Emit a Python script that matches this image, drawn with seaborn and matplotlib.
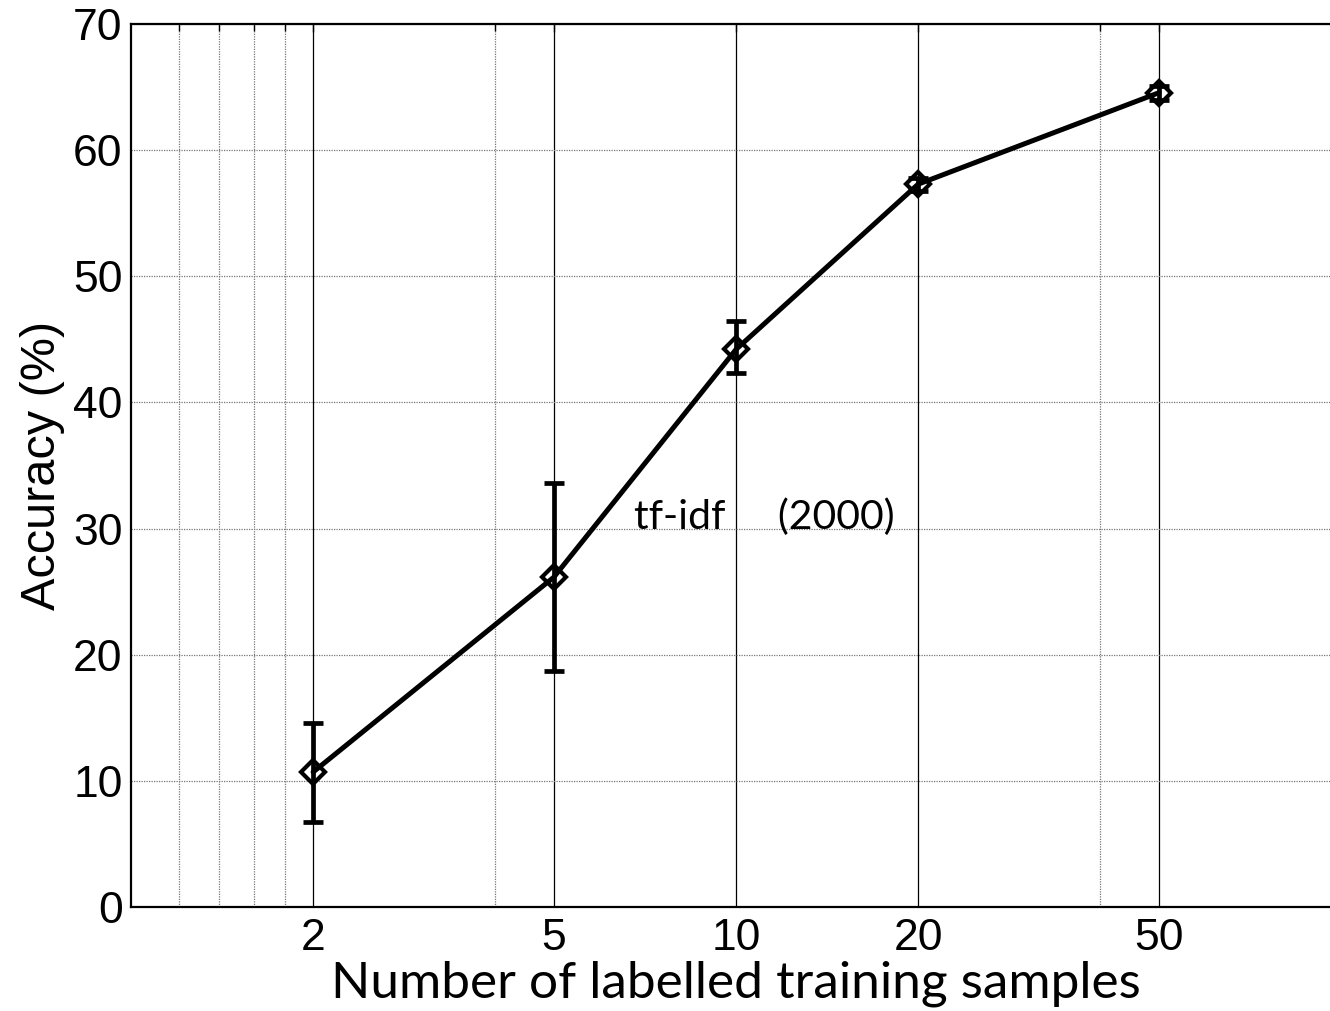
import matplotlib
matplotlib.use("Agg")
import matplotlib.pyplot as plt
from matplotlib.ticker import NullFormatter, FixedLocator
import seaborn as sns
import pandas as pd

# Accuracy vs. number of labelled training samples (tf-idf, 2000 features)
samples = [2, 5, 10, 20, 50]
accuracy = [10.7, 26.15, 44.2, 57.3, 64.55]
err_low = [6.75, 18.7, 42.3, 56.8, 64.0]
err_high = [14.55, 33.65, 46.45, 57.8, 65.1]

x_major = [2, 5, 10, 20, 50]
x_major_labels = ["2", "5", "10", "20", "50"]
x_minor = [1.2, 1.4, 1.6, 1.8, 4, 40]
y_ticks = [0, 10, 20, 30, 40, 50, 60, 70]

df = pd.DataFrame({"samples": samples, "accuracy": accuracy})

sns.set_style("white")
plt.rcParams["font.family"] = ["Liberation Sans", "DejaVu Sans"]
plt.rcParams["text.color"] = "black"
plt.rcParams["axes.labelcolor"] = "black"
plt.rcParams["xtick.color"] = "black"
plt.rcParams["ytick.color"] = "black"

fig = plt.figure(figsize=(13.3, 10.11), dpi=100)
ax = fig.add_axes([131 / 1330, 104 / 1011, 1210 / 1330, 883 / 1011])
ax.set_xscale("log")

# error bars
yerr = [[a - lo for a, lo in zip(accuracy, err_low)],
        [hi - a for a, hi in zip(accuracy, err_high)]]
ax.errorbar(samples, accuracy, yerr=yerr, fmt="none", ecolor="black",
            elinewidth=3.4, capsize=7.5, capthick=3.4, zorder=3)

sns.lineplot(data=df, x="samples", y="accuracy", ax=ax, color="black",
             linewidth=3.6, marker="D", markersize=12,
             markerfacecolor="none", markeredgecolor="black",
             markeredgewidth=3.0, zorder=4)

ax.set_xlim(1, 100)
ax.set_ylim(0, 70)

ax.xaxis.set_major_locator(FixedLocator(x_major))
ax.set_xticklabels(x_major_labels)
ax.xaxis.set_minor_locator(FixedLocator(x_minor))
ax.xaxis.set_minor_formatter(NullFormatter())
ax.set_yticks(y_ticks)
ax.set_yticklabels([str(v) for v in y_ticks])

ax.grid(which="major", axis="x", color="black", linestyle="-", linewidth=0.9)
ax.grid(which="minor", axis="x", color="#777777", linestyle=(0, (1, 1)), linewidth=0.9)
ax.grid(which="major", axis="y", color="#777777", linestyle=(0, (1, 1)), linewidth=0.9)
ax.set_axisbelow(True)

for side in ["left", "top", "bottom"]:
    ax.spines[side].set_color("black")
    ax.spines[side].set_linewidth(1.6)
ax.spines["right"].set_visible(False)

ax.tick_params(axis="both", which="both", direction="in", top=True,
               right=False, color="black", width=1.0)
ax.tick_params(axis="y", which="major", length=9, labelsize=32, pad=6)
ax.tick_params(axis="x", which="major", length=6, labelsize=32, pad=8)
ax.tick_params(axis="x", which="minor", length=5)

ax.set_xlabel("Number of labelled training samples", fontsize=37,
              family=["Lato", "DejaVu Sans"], labelpad=1)
ax.set_ylabel("Accuracy (%)", fontsize=35, labelpad=6)

ax.text(6.77, 30.0, "tf-idf     (2000)", fontsize=29.5,
        family=["Lato", "DejaVu Sans"], ha="left", va="baseline")

fig.savefig("out.png", dpi=100)
